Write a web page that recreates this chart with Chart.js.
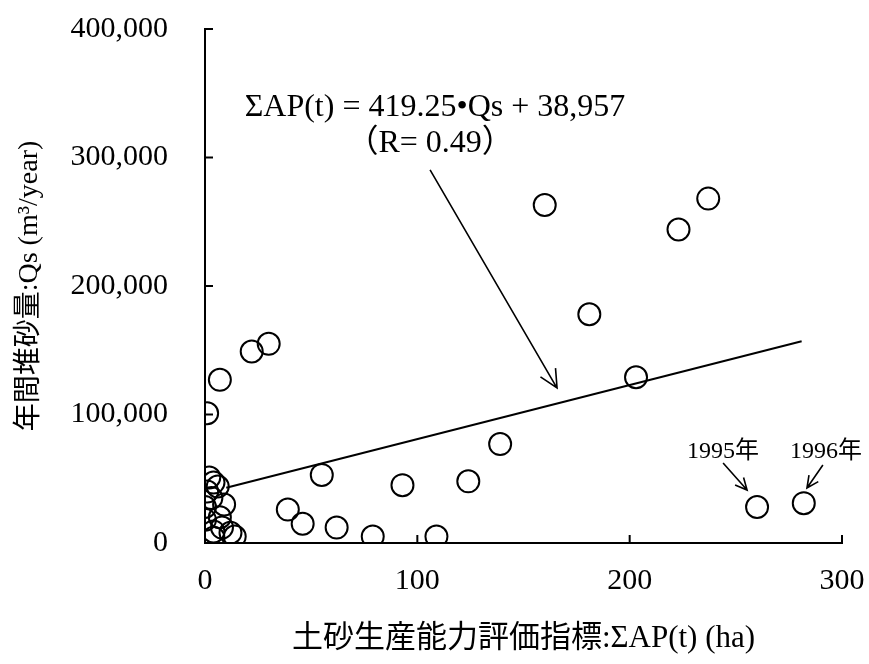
<!DOCTYPE html>
<html>
<head>
<meta charset="utf-8">
<script src="https://cdn.jsdelivr.net/npm/chart.js@4"></script>
<style>
  body { margin: 0; background: #fff; }
  #wrap { width: 869px; height: 664px; position: relative; }
</style>
</head>
<body>
<div id="wrap"><canvas id="sedimentChart"></canvas></div>
<script>
// ΣAP(t) (ha) and annual sediment Qs (m3/year)
const apValues = [1, 7, 22, 30, 160, 223, 237, 181, 203, 139, 55, 93, 124, 39, 46, 62, 79, 109, 260, 282,
  2, 4, 6, 1, 9, 0, 0, 4, 8, 12, 14, 4, 3, 7];
const qsValues = [101000, 127000, 149000, 155000, 263000, 244000, 268000, 178000, 129000, 77000, 53000, 45000, 48000, 26000, 15000, 12000, 5000, 5000, 28000, 31000,
  51000, 47000, 44000, 40000, 30000, 28000, 18000, 9000, 12000, 8000, 5000, 4000, 35000, 20000];

// regression line ends
const fitX = [10, 281];
const fitY = [43000, 157000];

const xTicks = [0, 100, 200, 300];
const yTicks = [0, 100000, 200000, 300000, 400000];

const serif = "'Liberation Serif', 'Times New Roman', 'Noto Sans CJK JP', serif";

const points = apValues.map((x, i) => ({ x: x, y: qsValues[i] }));
const fitLine = fitX.map((x, i) => ({ x: x, y: fitY[i] }));

function withCommas(v) {
  return String(v).replace(/\B(?=(\d{3})+(?!\d))/g, ",");
}

// inward tick marks, the equation text and the arrows
const extras = {
  id: "extras",
  afterDraw(chart) {
    const ctx = chart.ctx;
    const xs = chart.scales.x;
    const ys = chart.scales.y;
    const area = chart.chartArea;
    ctx.save();
    ctx.strokeStyle = "#000";
    ctx.fillStyle = "#000";
    ctx.lineWidth = 2;

    xTicks.forEach(v => {
      if (v === 0) return;
      const px = xs.getPixelForValue(v);
      ctx.beginPath();
      ctx.moveTo(px, area.bottom);
      ctx.lineTo(px, area.bottom - 8);
      ctx.stroke();
    });
    yTicks.forEach(v => {
      if (v === 0) return;
      const py = ys.getPixelForValue(v);
      ctx.beginPath();
      ctx.moveTo(area.left, py);
      ctx.lineTo(area.left + 8, py);
      ctx.stroke();
    });

    function arrow(x0, y0, x1, y1, head) {
      const ax = xs.getPixelForValue(x0), ay = ys.getPixelForValue(y0);
      const bx = xs.getPixelForValue(x1), by = ys.getPixelForValue(y1);
      const ang = Math.atan2(by - ay, bx - ax);
      ctx.beginPath();
      ctx.moveTo(ax, ay);
      ctx.lineTo(bx, by);
      ctx.moveTo(bx - head * Math.cos(ang - 0.45), by - head * Math.sin(ang - 0.45));
      ctx.lineTo(bx, by);
      ctx.lineTo(bx - head * Math.cos(ang + 0.45), by - head * Math.sin(ang + 0.45));
      ctx.stroke();
    }

    ctx.lineWidth = 1.6;
    arrow(106, 290300, 165.8, 120600, 20);
    arrow(244, 62300, 255.3, 41200, 13);
    arrow(291, 60700, 283.5, 42800, 13);

    ctx.textAlign = "center";
    ctx.textBaseline = "middle";
    ctx.font = "32px " + serif;
    ctx.fillText("ΣAP(t) = 419.25•Qs + 38,957", xs.getPixelForValue(108.3), ys.getPixelForValue(339000));
    ctx.fillText("（R= 0.49）", xs.getPixelForValue(106), ys.getPixelForValue(311000));
    ctx.font = "24px " + serif;
    ctx.fillText("1995年", xs.getPixelForValue(244), ys.getPixelForValue(71000));
    ctx.fillText("1996年", xs.getPixelForValue(292.5), ys.getPixelForValue(71000));
    ctx.restore();
  }
};

new Chart(document.getElementById("sedimentChart").getContext("2d"), {
  type: "scatter",
  data: {
    datasets: [
      {
        label: "Qs",
        data: points,
        pointStyle: "circle",
        pointRadius: 11,
        borderWidth: 2,
        borderColor: "#000",
        backgroundColor: "rgba(0,0,0,0)"
      },
      {
        type: "line",
        label: "fit",
        data: fitLine,
        borderColor: "#000",
        borderWidth: 2,
        pointRadius: 0,
        fill: false
      }
    ]
  },
  options: {
    responsive: true,
    maintainAspectRatio: false,
    animation: false,
    layout: { padding: { top: 29, right: 27, left: 0, bottom: 0 } },
    plugins: {
      legend: { display: false },
      tooltip: { enabled: false }
    },
    scales: {
      x: {
        type: "linear",
        min: 0,
        max: 300,
        afterBuildTicks: s => { s.ticks = xTicks.map(v => ({ value: v })); },
        afterFit: s => { s.height = 121; s.paddingLeft = 0; s.paddingRight = 0; },
        grid: { display: false, drawTicks: false },
        border: { display: true, color: "#000", width: 2 },
        ticks: { color: "#000", font: { family: serif, size: 30 }, padding: 20, maxRotation: 0 },
        title: {
          display: true,
          text: "土砂生産能力評価指標:ΣAP(t) (ha)",
          color: "#000",
          font: { family: serif, size: 31 },
          padding: { top: 0, bottom: 7 }
        }
      },
      y: {
        type: "linear",
        min: 0,
        max: 400000,
        afterBuildTicks: s => { s.ticks = yTicks.map(v => ({ value: v })); },
        afterFit: s => { s.width = 205; s.paddingTop = 0; s.paddingBottom = 0; },
        grid: { display: false, drawTicks: false },
        border: { display: true, color: "#000", width: 2 },
        ticks: { color: "#000", font: { family: serif, size: 30 }, padding: 37, callback: v => withCommas(v) },
        title: {
          display: true,
          text: "年間堆砂量:Qs (m³/year)",
          color: "#000",
          font: { family: serif, size: 28 },
          padding: { top: 13, bottom: 0 }
        }
      }
    }
  },
  plugins: [extras]
});
</script>
</body>
</html>
